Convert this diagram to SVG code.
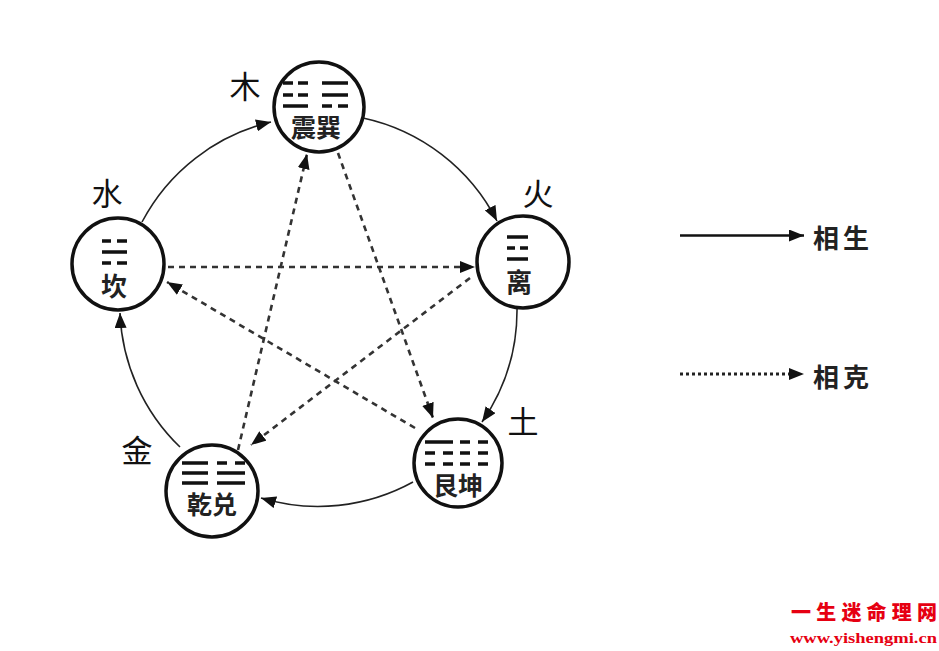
<svg xmlns="http://www.w3.org/2000/svg" width="939" height="651" viewBox="0 0 939 651">
<defs>
<style>
.node{fill:#fff;stroke:#111;stroke-width:3.5}
.yao{stroke:#111;stroke-width:3.6}
.inner{font-family:"Noto Sans CJK SC","Noto Sans CJK JP",sans-serif;font-weight:700;fill:#222;text-anchor:middle;dominant-baseline:central}
.lbl{font-family:"Noto Sans CJK SC","Noto Sans CJK JP",sans-serif;font-weight:400;fill:#111;text-anchor:middle;dominant-baseline:central;font-size:31px}
.sheng{fill:none;stroke:#222;stroke-width:1.6}
.ke{fill:none;stroke:#333;stroke-width:2.6;stroke-dasharray:6 5}
.leg{font-family:"Noto Sans CJK SC","Noto Sans CJK JP",sans-serif;font-weight:700;fill:#222;font-size:26px;dominant-baseline:central;letter-spacing:4px}
</style>
<marker id="ah" markerUnits="userSpaceOnUse" markerWidth="16" markerHeight="12" refX="15" refY="6" orient="auto">
<path d="M0,0 L15,6 L0,12 z" fill="#111"/>
</marker>
</defs>
<rect width="939" height="651" fill="#fff"/>

<g id="connectors">
<path class="sheng" d="M142,222 A197,197 0 0 1 271,122" marker-end="url(#ah)"/>
<path class="sheng" d="M363,118 A197,197 0 0 1 497,221" marker-end="url(#ah)"/>
<path class="sheng" d="M517,307 A197,197 0 0 1 482,422" marker-end="url(#ah)"/>
<path class="sheng" d="M413,482 A197,197 0 0 1 261,498" marker-end="url(#ah)"/>
<path class="sheng" d="M180,447 A197,197 0 0 1 120,313" marker-end="url(#ah)"/>
<path class="ke" d="M168,267 L475,267" marker-end="url(#ah)"/>
<path class="ke" d="M338,153 L433,418" marker-end="url(#ah)"/>
<path class="ke" d="M415,428 L167,282" marker-end="url(#ah)"/>
<path class="ke" d="M470,278 L251,445" marker-end="url(#ah)"/>
<path class="ke" d="M238,450 L307,154" marker-end="url(#ah)"/>
</g>

<g id="mu">
<circle class="node" cx="319" cy="107" r="45"/>
<path class="yao" d="M283,83 H293 M298,83 H308 M283,95 H293 M298,95 H308 M283,106 H308 M322,83 H348 M322,95 H348 M322,106 H332 M338,106 H348"/>
<text class="inner" x="316" y="126" font-size="25">震巽</text>
<text class="lbl" x="245" y="84">木</text>
</g>

<g id="shui">
<circle class="node" cx="118" cy="264" r="46"/>
<path class="yao" d="M102,241 H111 M117,241 H127 M102,252 H127 M102,263 H111 M117,263 H127"/>
<text class="inner" x="114" y="284" font-size="26">坎</text>
<text class="lbl" x="107" y="191">水</text>
</g>

<g id="huo">
<circle class="node" cx="523" cy="262" r="46"/>
<path class="yao" d="M507,237 H528 M507,248 H515 M520,248 H528 M507,259 H528"/>
<text class="inner" x="519" y="280" font-size="26">离</text>
<text class="lbl" x="538" y="191">火</text>
</g>

<g id="jin">
<circle class="node" cx="212" cy="491" r="46"/>
<path class="yao" d="M182,463 H208 M182,473 H208 M182,483 H208 M217,463 H227 M235,463 H245 M217,473 H245 M217,483 H245"/>
<text class="inner" x="212" y="503" font-size="25">乾兑</text>
<text class="lbl" x="137" y="448">金</text>
</g>

<g id="tu">
<circle class="node" cx="458" cy="463" r="44"/>
<path class="yao" d="M425,442 H453 M425,453 H435 M443,453 H453 M425,464 H435 M443,464 H453 M460,442 H470 M478,442 H488 M460,453 H470 M478,453 H488 M460,464 H470 M478,464 H488"/>
<text class="inner" x="458" y="484" font-size="25">艮坤</text>
<text class="lbl" x="523" y="419">土</text>
</g>

<g id="legend">
<path d="M680,235.5 L804,235.5" stroke="#111" stroke-width="2.4" marker-end="url(#ah)"/>
<text class="leg" x="813" y="236">相生</text>
<path d="M680,374 L792,374" stroke="#222" stroke-width="3" stroke-dasharray="3 3"/>
<path d="M792,374 L804,374" stroke="none" marker-end="url(#ah)"/>
<text class="leg" x="813" y="375">相克</text>
</g>

<g id="watermark">
<text x="791" y="611" font-family="Noto Sans CJK SC, sans-serif" font-weight="900" font-size="20" fill="#e60012" textLength="146" lengthAdjust="spacing" dominant-baseline="central">一生迷命理网</text>
<text x="790" y="638" font-family="Liberation Serif, serif" font-weight="700" font-size="15" fill="#e60012" textLength="147" lengthAdjust="spacingAndGlyphs" dominant-baseline="central">www.yishengmi.cn</text>
</g>
</svg>
